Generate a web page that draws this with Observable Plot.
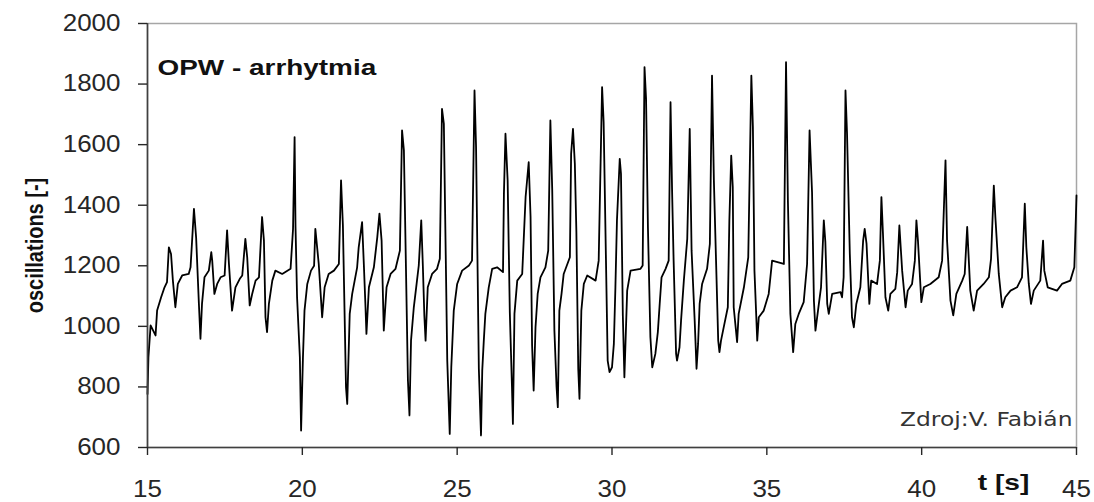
<!DOCTYPE html>
<html>
<head>
<meta charset="utf-8">
<script src="https://cdn.jsdelivr.net/npm/d3@7"></script>
<script src="https://cdn.jsdelivr.net/npm/@observablehq/plot@0.6"></script>
<style>
  html, body { margin: 0; padding: 0; background: #fff; }
  #chart svg { display: block; }
</style>
</head>
<body>
<div id="chart"></div>
<script>
// ---- data ----
const time = [
15.00,15.03,15.10,15.26,15.31,15.44,15.55,15.63,15.69,15.76,15.82,15.90,15.98,16.12,16.33,16.39,16.50,16.57,16.66,16.71,
16.76,16.84,16.98,17.06,17.09,17.16,17.25,17.36,17.49,17.57,17.63,17.73,17.84,17.98,18.06,18.16,18.22,18.30,18.38,18.49,
18.60,18.70,18.76,18.81,18.86,18.92,19.03,19.13,19.35,19.62,19.70,19.75,19.78,19.83,19.92,19.96,20.02,20.07,20.16,20.28,
20.38,20.42,20.53,20.64,20.72,20.85,21.02,21.18,21.25,21.31,21.41,21.45,21.53,21.61,21.77,21.82,21.93,21.99,22.04,22.07,
22.15,22.31,22.42,22.49,22.56,22.63,22.72,22.85,23.01,23.15,23.22,23.28,23.41,23.46,23.51,23.60,23.69,23.76,23.84,23.89,
23.94,23.98,24.05,24.19,24.35,24.44,24.51,24.57,24.68,24.76,24.81,24.89,25.00,25.16,25.38,25.48,25.56,25.61,25.70,25.77,
25.81,25.86,25.91,26.02,26.13,26.29,26.48,26.51,26.56,26.63,26.70,26.77,26.80,26.85,26.94,27.10,27.21,27.31,27.37,27.42,
27.47,27.53,27.60,27.69,27.85,27.94,28.01,28.07,28.14,28.21,28.25,28.30,28.37,28.44,28.64,28.68,28.74,28.80,28.85,28.91,
28.95,29.01,29.09,29.20,29.47,29.57,29.68,29.73,29.81,29.86,29.92,30.00,30.06,30.11,30.16,30.25,30.29,30.35,30.40,30.43,
30.49,30.60,30.92,30.99,31.05,31.10,31.16,31.24,31.30,31.40,31.48,31.54,31.60,31.73,31.83,31.89,31.94,31.99,32.07,32.10,
32.18,32.23,32.32,32.43,32.51,32.57,32.67,32.73,32.78,32.83,32.91,33.07,33.16,33.23,33.29,33.36,33.43,33.47,33.52,33.63,
33.74,33.79,33.85,33.90,33.93,34.04,34.09,34.26,34.40,34.45,34.50,34.55,34.60,34.69,34.74,34.90,35.06,35.17,35.55,35.62,
35.68,35.76,35.85,35.92,36.03,36.19,36.30,36.38,36.46,36.52,36.57,36.68,36.75,36.84,36.89,36.95,37.00,37.11,37.38,37.43,
37.48,37.54,37.59,37.68,37.75,37.81,37.89,38.02,38.11,38.16,38.22,38.31,38.37,38.56,38.65,38.70,38.75,38.83,38.92,38.99,
39.15,39.21,39.28,39.37,39.48,39.55,39.69,39.78,39.83,39.88,39.99,40.07,40.28,40.55,40.66,40.77,40.82,40.93,41.02,41.12,
41.31,41.39,41.47,41.57,41.68,41.79,42.00,42.17,42.24,42.33,42.38,42.49,42.60,42.70,42.87,43.08,43.24,43.33,43.38,43.46,
43.53,43.62,43.83,43.92,43.96,44.07,44.37,44.53,44.80,44.93,44.98,45.00
];
const oscillations = [
777,898,1003,970,1052,1096,1129,1146,1261,1239,1151,1063,1140,1168,1173,1195,1388,1294,1074,959,
1074,1162,1184,1245,1217,1107,1140,1162,1168,1317,1206,1052,1129,1157,1168,1289,1228,1069,1107,1151,
1162,1361,1283,1030,981,1074,1151,1184,1173,1190,1322,1625,1328,1096,898,656,898,1052,1140,1184,
1200,1322,1206,1030,1129,1173,1184,1206,1482,1333,799,744,1041,1107,1195,1261,1344,1195,1063,975,
1129,1195,1294,1372,1283,986,1129,1173,1190,1250,1647,1581,821,706,953,1063,1140,1201,1350,1206,
1036,953,1129,1173,1190,1223,1718,1669,887,645,865,1052,1140,1184,1201,1217,1779,1592,860,640,
854,953,1041,1129,1190,1195,1179,1438,1636,1482,1047,799,678,1041,1151,1173,1427,1542,1361,937,
788,997,1107,1162,1195,1250,1680,1449,986,799,733,1052,1107,1173,1228,1570,1652,1537,1311,860,
761,1052,1140,1168,1151,1217,1790,1674,1190,887,849,865,942,1129,1350,1553,1504,1036,832,926,
1118,1184,1190,1201,1856,1751,1328,964,865,909,981,1074,1162,1190,1217,1740,1449,1217,909,887,
931,1019,1151,1289,1652,1250,1019,860,942,1074,1140,1190,1272,1828,1482,1217,953,915,953,1008,
1063,1350,1564,1460,1063,948,1041,1129,1228,1526,1828,1658,1184,953,1030,1052,1107,1217,1206,1872,
1416,1041,915,1008,1041,1080,1206,1647,1443,1085,986,1074,1129,1350,1278,1074,1041,1107,1113,1096,
1162,1779,1636,1239,1030,997,1074,1129,1283,1322,1272,1074,1151,1140,1217,1427,1306,1096,1052,1107,
1124,1179,1333,1184,1063,1118,1140,1217,1350,1283,1080,1129,1140,1162,1217,1548,1283,1085,1036,1107,
1151,1173,1328,1118,1052,1118,1140,1162,1223,1465,1361,1173,1063,1096,1118,1129,1162,1405,1261,1140,
1074,1118,1151,1283,1184,1129,1118,1140,1151,1195,1361,1432
];
const xTicks = [15, 20, 25, 30, 35, 40, 45];
const yTicks = [600, 800, 1000, 1200, 1400, 1600, 1800, 2000];
const titleText = "OPW - arrhytmia";
const yLabelText = "oscillations [-]";
const xLabelText = "t [s]";
const sourceText = "Zdroj:V. Fabián";

const data = time.map((t, i) => ({t, v: oscillations[i]}));

const chart = Plot.plot({
  width: 1094,
  height: 502,
  marginLeft: 147,
  marginRight: 18,
  marginTop: 23,
  marginBottom: 55,
  style: {fontFamily: "'Liberation Sans', Arial, sans-serif", background: "#fff", color: "#262626"},
  x: {domain: [15, 45]},
  y: {domain: [600, 2000]},
  marks: [
    Plot.frame({stroke: "#a6a6a6", strokeWidth: 1.5}),
    Plot.line(data, {x: "t", y: "v", stroke: "#000", strokeWidth: 1.8}),
    Plot.ruleX([15], {stroke: "#404040", strokeWidth: 1.6}),
    Plot.ruleY([600], {stroke: "#404040", strokeWidth: 1.6}),
    Plot.axisY({ticks: yTicks, tickFormat: d3.format("d"), tickSize: 9, tickPadding: 18,
      fontSize: 23, label: null, strokeWidth: 1.4}),
    Plot.axisX({ticks: xTicks, tickFormat: d3.format("d"), tickSize: 8, tickPadding: 25,
      fontSize: 23, label: null, strokeWidth: 1.4}),
    Plot.text([titleText], {frameAnchor: "top-left", textAnchor: "start", dx: 10, dy: 36,
      fontSize: 22, fontWeight: "bold", fill: "#111", ariaLabel: () => "title"}),
    Plot.text([sourceText], {frameAnchor: "bottom-right", textAnchor: "end", dx: -4, dy: -22,
      fontSize: 19.5, fontFamily: "'DejaVu Sans', sans-serif", fill: "#333", ariaLabel: () => "source"}),
    Plot.text([xLabelText], {frameAnchor: "bottom-right", textAnchor: "middle", dx: -73, dy: 42,
      fontSize: 22, fontWeight: "bold", fill: "#111", ariaLabel: () => "xlabel"}),
    Plot.text([yLabelText], {frameAnchor: "left", textAnchor: "middle", rotate: -90, dx: -112, dy: 10,
      fontSize: 20, fontWeight: "bold", fill: "#111", ariaLabel: () => "ylabel"})
  ]
});

// horizontal stretch of text, as in the reference picture
const stretchBy = {"title": 1.27, "source": 1.2, "xlabel": 1.28};
chart.querySelectorAll("text").forEach(el => {
  const own = el.getAttribute("aria-label");
  let tr = el.getAttribute("transform") || "";
  if (own === "ylabel") {
    // rotated text: local y is the screen's horizontal direction
    el.setAttribute("transform", `${tr} scale(1,1.15)`);
    return;
  }
  const sx = own && own in stretchBy ? stretchBy[own] : 1.13;
  const x = el.getAttribute("x");
  if (x != null && x !== "" && !isNaN(+x)) { tr += ` translate(${x},0)`; el.removeAttribute("x"); }
  el.setAttribute("transform", `${tr} scale(${sx},1)`);
});

document.getElementById("chart").appendChild(chart);
</script>
</body>
</html>
